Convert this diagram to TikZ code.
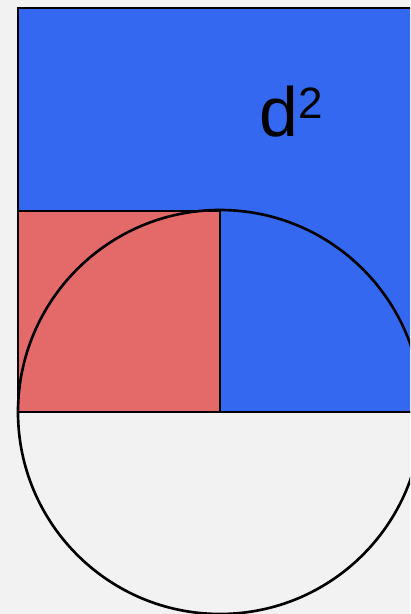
\documentclass[tikz,border=0pt]{standalone}
\usepackage{fontspec}
\setmainfont{Liberation Sans}
\usetikzlibrary{backgrounds}
\definecolor{bgrey}{RGB}{242,242,242}
\definecolor{sqblue}{RGB}{52,104,240}
\definecolor{sqred}{RGB}{228,106,106}

\begin{document}
\begin{tikzpicture}[
  x=0.02cm, y=-0.02cm,
  edge/.style={draw=black,line width=1.5pt},
  bigsq/.style={edge,fill=sqblue},
  smallsq/.style={edge,fill=sqred},
  ]
  \useasboundingbox (0,0) rectangle (410,614);
  \fill[bgrey] (0,0) rectangle (410,614);
  \clip (0,0) rectangle (410,614);

  % square on the diameter
  \draw[bigsq] (18,8) rectangle (422,412);
  % square on the radius
  \draw[smallsq] (18,211) rectangle (220,412);

  % circle, lower half left empty
  \fill[bgrey] (18,412) arc[start angle=180,end angle=0,radius=202] -- cycle;
  \draw[edge] (220,412) circle[radius=202];
  \draw[edge] (18,412) -- (422,412);

  \node[anchor=base west,inner sep=0pt] (dsq) at (259,137)
    {\fontsize{39.7pt}{40pt}\selectfont d\raisebox{10.6pt}{\fontsize{25pt}{25pt}\selectfont 2}};
\end{tikzpicture}
\end{document}
